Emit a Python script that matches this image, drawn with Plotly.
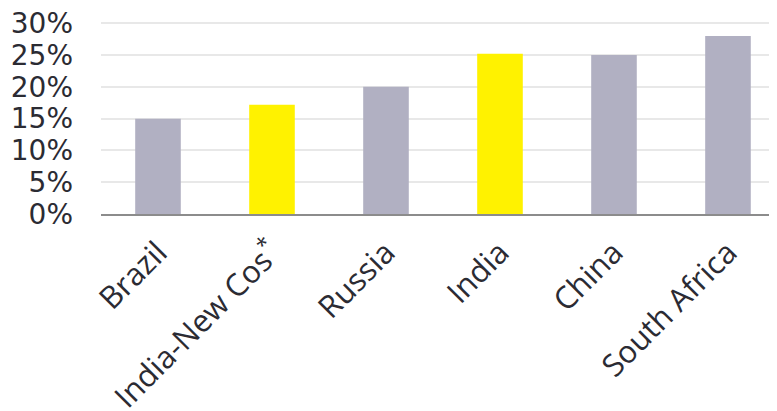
import plotly.graph_objects as go

categories = ["Brazil", "India-New Cos*", "Russia", "India", "China", "South Africa"]
x_tick_labels = ["Brazil", "India-New Cos<sup>*</sup>", "Russia", "India", "China", "South Africa"]
values = [15, 17.2, 20, 25.2, 25, 28]
bar_colors = ["#B1B0C2", "#FFF200", "#B1B0C2", "#FFF200", "#B1B0C2", "#B1B0C2"]
y_ticks = [0, 5, 10, 15, 20, 25, 30]
y_tick_labels = ["0%", "5%", "10%", "15%", "20%", "25%", "30%"]

fig = go.Figure(go.Bar(
    x=categories, y=values, marker=dict(color=bar_colors, line=dict(width=0)),
    width=0.4,
))

fig.update_layout(
    width=769, height=403,
    margin=dict(l=93, r=0, t=14, b=197, autoexpand=False),
    plot_bgcolor="white", paper_bgcolor="white",
    showlegend=False,
    xaxis=dict(
        range=[-0.5, 5.43], tickangle=-45, showgrid=False, automargin=False,
        tickvals=categories, ticktext=x_tick_labels,
        showline=True, linecolor="#8C8C8C", linewidth=2,
        tickfont=dict(family="Open Sans", size=31, color="#2B2B33"),
        ticklabelstandoff=6, ticklabeloverflow="allow",
    ),
    yaxis=dict(
        range=[0, 30.2], tickvals=y_ticks, ticktext=y_tick_labels, automargin=False,
        showgrid=True, gridcolor="#E8E8E8", gridwidth=1.5, zeroline=False,
        tickfont=dict(family="DejaVu Sans", size=28, color="#2B2B33"),
        ticklabelstandoff=27, ticklabeloverflow="allow",
    ),
)

fig.write_html("out.html")
